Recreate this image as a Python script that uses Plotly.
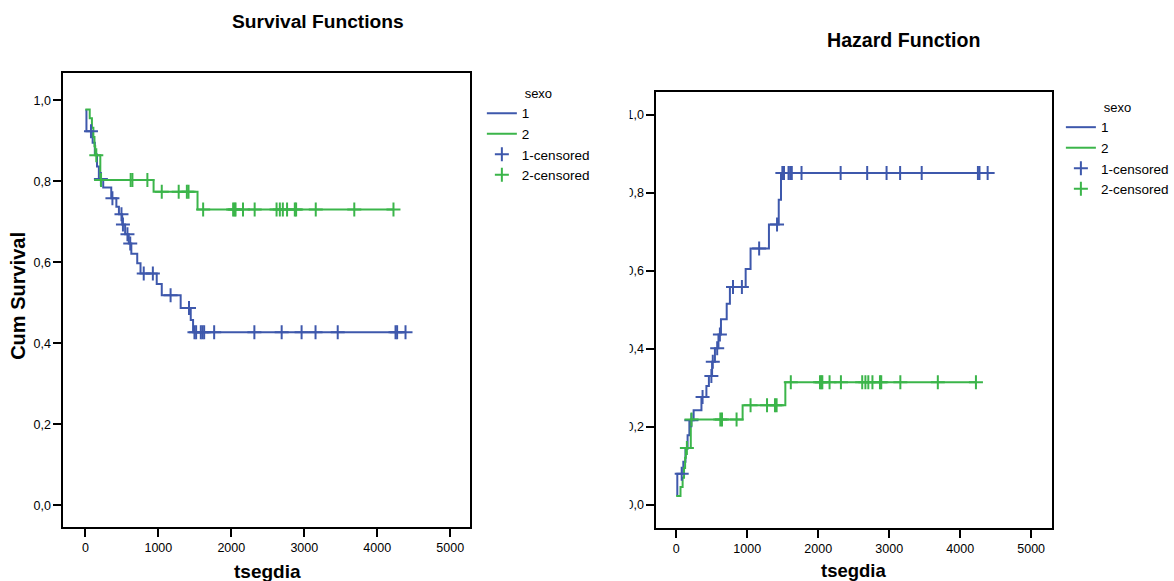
import numpy as np
import plotly.graph_objects as go

# ---------------- data ----------------
# sexo = 1 : Kaplan-Meier steps (time of event, survival after event)
t1 = [0, 15, 100, 130, 160, 185, 245, 355, 425, 460, 505, 545, 595, 630, 711, 756, 978, 1047, 1306, 1444, 1476]
s1 = [0.975, 0.923, 0.895, 0.866, 0.836, 0.805, 0.784, 0.758, 0.737, 0.718, 0.693, 0.669, 0.646, 0.621,
      0.597, 0.572, 0.546, 0.518, 0.487, 0.457, 0.427]
h1 = [0.025, 0.080, 0.111, 0.144, 0.179, 0.217, 0.243, 0.277, 0.305, 0.331, 0.367, 0.402, 0.437, 0.476,
      0.516, 0.559, 0.605, 0.658, 0.719, 0.783, 0.851]
c1 = [77, 213, 371, 495, 515, 577, 615, 800, 925, 1168, 1420, 1495, 1518, 1582, 1605, 1628, 1765,
      2316, 2690, 2963, 3154, 3458, 4250, 4272, 4387]

# sexo = 2
t2 = [0, 60, 90, 110, 125, 135, 205, 935, 1537]
s2 = [0.977, 0.955, 0.932, 0.909, 0.886, 0.864, 0.803, 0.774, 0.730]
h2 = [0.023, 0.046, 0.070, 0.095, 0.121, 0.146, 0.219, 0.256, 0.315]
c2 = [150, 215, 621, 645, 850, 1047, 1279, 1391, 1414, 1614, 2025, 2045, 2058, 2160, 2320, 2620,
      2665, 2706, 2764, 2870, 2888, 3157, 3685, 4222]

x_ticks = [0, 1000, 2000, 3000, 4000, 5000]
y_ticks = [0.0, 0.2, 0.4, 0.6, 0.8, 1.0]
y_tick_labels = ["0,0", "0,2", "0,4", "0,6", "0,8", "1,0"]

BLUE = "#3E58AC"
GREEN = "#3BB54A"
FONT = "Liberation Sans, Arial, sans-serif"
W, H = 1174, 581


def step_at(times, vals, pts):
    idx = np.searchsorted(np.array(times), np.array(pts), side="right") - 1
    return [vals[i] for i in idx]


fig = go.Figure()

groups = [("1", t1, s1, h1, c1, BLUE), ("2", t2, s2, h2, c2, GREEN)]

for (xa, ya, leg, vkey) in [("x", "y", "legend", 0), ("x2", "y2", "legend2", 1)]:
    for name, tt, ss, hh, cc, col in groups:
        vals = ss if vkey == 0 else hh
        fig.add_trace(go.Scatter(
            x=list(tt) + [cc[-1]], y=list(vals) + [vals[-1]],
            mode="lines", line=dict(color=col, width=2, shape="hv"),
            name=name, xaxis=xa, yaxis=ya, legend=leg, hoverinfo="skip"))
    for name, tt, ss, hh, cc, col in groups:
        vals = ss if vkey == 0 else hh
        fig.add_trace(go.Scatter(
            x=cc, y=step_at(tt, vals, cc), mode="markers",
            marker=dict(symbol="cross-thin", size=10, color=col, line=dict(color=col, width=2)),
            name=name + "-censored", xaxis=xa, yaxis=ya, legend=leg, hoverinfo="skip"))

axis_common = dict(showgrid=False, zeroline=False, showline=True, linecolor="black", linewidth=2,
                   mirror=True, ticks="outside", ticklen=8, tickwidth=2, tickcolor="black",
                   tickfont=dict(family=FONT, size=12.5, color="black"))

leg_common = dict(xanchor="left", yanchor="top",
                  title=dict(text="sexo", side="top center", font=dict(size=13)),
                  font=dict(family=FONT, size=13.5, color="black"), bgcolor="rgba(0,0,0,0)",
                  tracegroupgap=0)

fig.update_layout(
    width=W, height=H, margin=dict(l=0, r=0, t=0, b=0),
    paper_bgcolor="white", plot_bgcolor="white",
    font=dict(family=FONT, color="black"),
    xaxis=dict(domain=[64 / W, 474 / W], range=[-300, 5270], tickvals=x_ticks,
               ticktext=[str(v) for v in x_ticks], anchor="y", **axis_common),
    yaxis=dict(domain=[1 - 527 / H, 1 - 73 / H], range=[-0.054, 1.067], tickvals=y_ticks,
               ticktext=y_tick_labels, anchor="x", **axis_common),
    xaxis2=dict(domain=[662 / W, 1061 / W], range=[-280, 5293], tickvals=x_ticks,
                ticktext=[str(v) for v in x_ticks], anchor="y2", **axis_common),
    yaxis2=dict(domain=[1 - 528 / H, 1 - 92 / H], range=[-0.059, 1.059], tickvals=y_ticks,
                ticktext=y_tick_labels, anchor="x2", **axis_common),
    legend=dict(x=486 / W, y=1 - 81 / H, **leg_common),
    legend2=dict(x=1070 / W, y=1 - 95 / H, **leg_common),
    shapes=[dict(type="rect", xref="paper", yref="paper", x0=600 / W, x1=635 / W,
                 y0=1 - 522 / H, y1=1 - 100 / H, fillcolor="white", line=dict(width=0),
                 layer="above")],
    annotations=[
        dict(text="<b>Survival Functions</b>", x=321 / W, y=1 - 22 / H, xref="paper", yref="paper",
             showarrow=False, font=dict(size=19.2, family=FONT), xanchor="center", yanchor="middle"),
        dict(text="<b>Hazard Function</b>", x=912 / W, y=1 - 40 / H, xref="paper", yref="paper",
             showarrow=False, font=dict(size=19.6, family=FONT), xanchor="center", yanchor="middle"),
        dict(text="<b>Cum Survival</b>", x=18 / W, y=1 - 296 / H, xref="paper", yref="paper",
             showarrow=False, textangle=-90, font=dict(size=20, family=FONT),
             xanchor="center", yanchor="middle"),
        dict(text="<b>tsegdia</b>", x=270 / W, y=1 - 571 / H, xref="paper", yref="paper",
             showarrow=False, font=dict(size=19, family=FONT), xanchor="center", yanchor="middle"),
        dict(text="<b>tsegdia</b>", x=861 / W, y=1 - 570 / H, xref="paper", yref="paper",
             showarrow=False, font=dict(size=18.5, family=FONT), xanchor="center", yanchor="middle"),
    ],
)

fig.write_html("out.html", config={"displayModeBar": False})
